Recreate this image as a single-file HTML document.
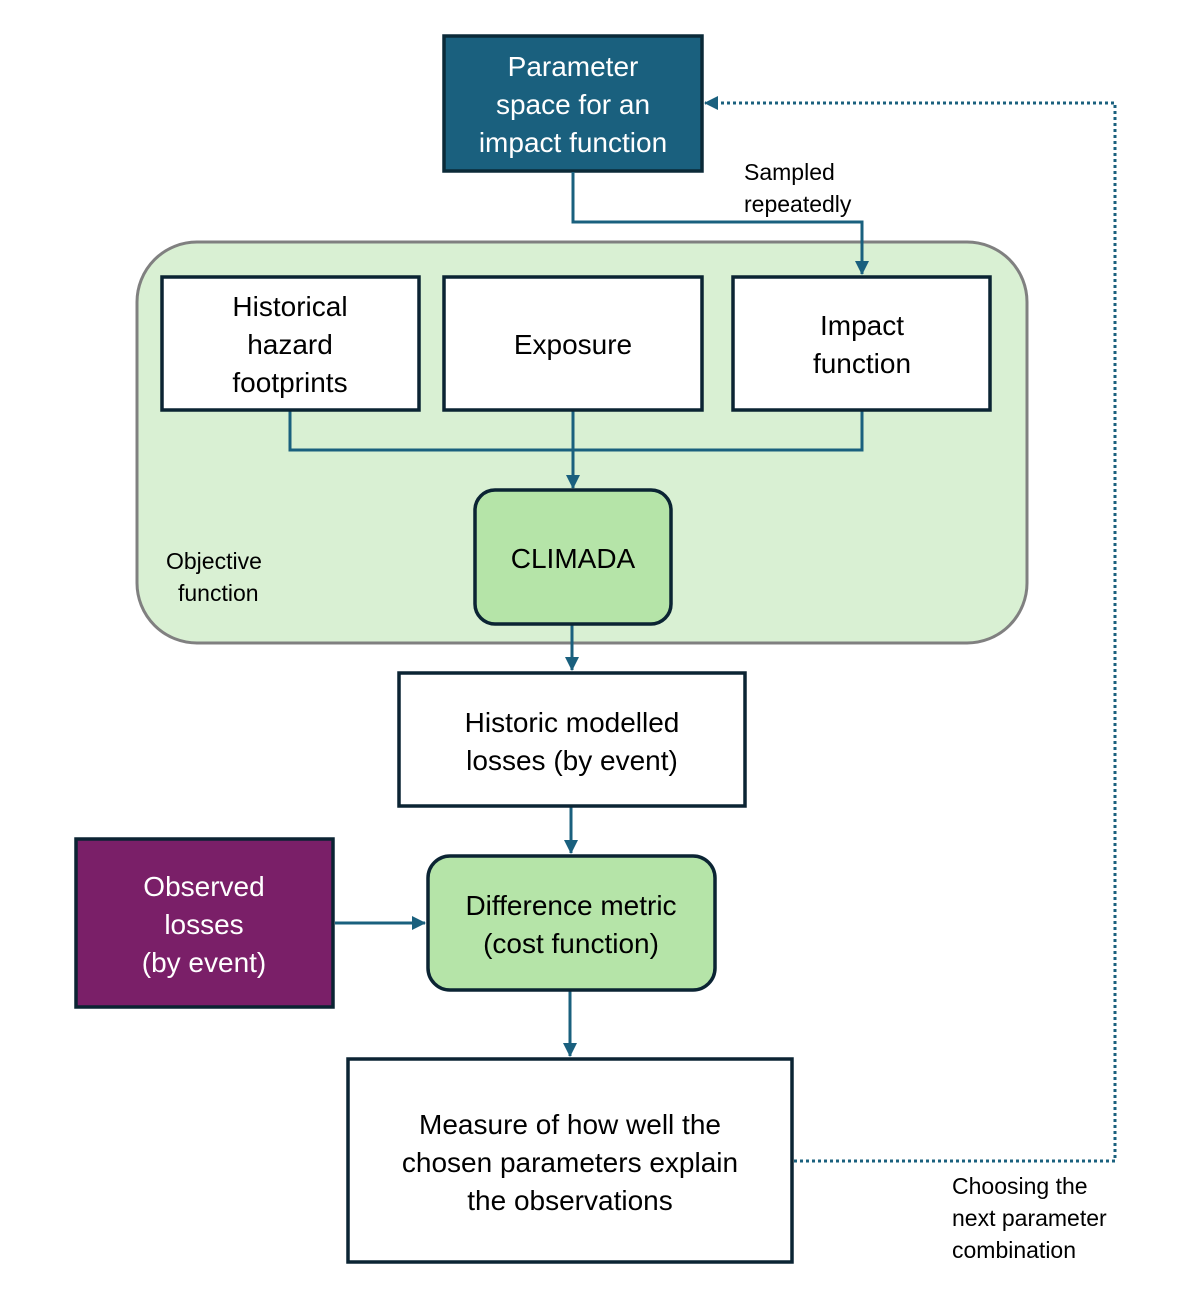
<!DOCTYPE html>
<html><head><style>body{margin:0;background:#fff}svg{display:block}text{font-family:"Liberation Sans",sans-serif}</style></head>
<body>
<svg width="1182" height="1302" viewBox="0 0 1182 1302" xmlns="http://www.w3.org/2000/svg">
<defs>
<marker id="b" markerWidth="14" markerHeight="14" refX="13" refY="7" orient="auto" markerUnits="userSpaceOnUse"><path d="M0,0 L14,7 L0,14 z" fill="#1a607e"/></marker>
</defs>
<rect x="137" y="242" width="890" height="401" rx="60" fill="#d9f0d3" stroke="#808080" stroke-width="3"/>
<rect x="444" y="36" width="258" height="135" fill="#1a607e" stroke="#0b2a38" stroke-width="3.5"/>
<g fill="#fff" font-size="28" text-anchor="middle">
<text x="573" y="76">Parameter</text><text x="573" y="114">space for an</text><text x="573" y="152">impact function</text></g>
<g fill="none" stroke="#1a607e" stroke-width="3">
<path d="M573,172 V222 H862 V274" marker-end="url(#b)"/>
<path d="M290,411 V450 H862 V411"/>
<path d="M573,411 V488" marker-end="url(#b)"/>
<path d="M572,625 V670" marker-end="url(#b)"/>
<path d="M571,807 V853" marker-end="url(#b)"/>
<path d="M335,923 H425" marker-end="url(#b)"/>
<path d="M570,991 V1056" marker-end="url(#b)"/>
<path d="M794,1161 H1115 V103 H705" stroke-dasharray="3,3" marker-end="url(#b)"/>
</g>
<g stroke="#0b2433" stroke-width="3.5">
<rect x="162" y="277" width="257" height="133" fill="#fff"/>
<rect x="444" y="277" width="258" height="133" fill="#fff"/>
<rect x="733" y="277" width="257" height="133" fill="#fff"/>
<rect x="475" y="490" width="196" height="134" rx="20" fill="#b5e4a8"/>
<rect x="399" y="673" width="346" height="133" fill="#fff"/>
<rect x="428" y="856" width="287" height="134" rx="22" fill="#b5e4a8"/>
<rect x="76" y="839" width="257" height="168" fill="#7a1f68"/>
<rect x="348" y="1059" width="444" height="203" fill="#fff"/>
</g>
<g fill="#000" font-size="28" text-anchor="middle">
<text x="290" y="316">Historical</text><text x="290" y="354">hazard</text><text x="290" y="392">footprints</text>
<text x="573" y="354">Exposure</text>
<text x="862" y="335">Impact</text><text x="862" y="373">function</text>
<text x="573" y="568">CLIMADA</text>
<text x="572" y="732">Historic modelled</text><text x="572" y="770">losses (by event)</text>
<text x="571" y="915">Difference metric</text><text x="571" y="953">(cost function)</text>
<text x="570" y="1134">Measure of how well the</text><text x="570" y="1172">chosen parameters explain</text><text x="570" y="1210">the  observations</text>
</g>
<g fill="#fff" font-size="28" text-anchor="middle">
<text x="204" y="896">Observed</text><text x="204" y="934">losses</text><text x="204" y="972">(by event)</text></g>
<g fill="#000" font-size="23">
<text x="744" y="180">Sampled</text><text x="744" y="212">repeatedly</text>
<text x="166" y="569">Objective</text><text x="178" y="601">function</text>
<text x="952" y="1194">Choosing the</text><text x="952" y="1226">next parameter</text><text x="952" y="1258">combination</text>
</g>
</svg>
</body></html>
